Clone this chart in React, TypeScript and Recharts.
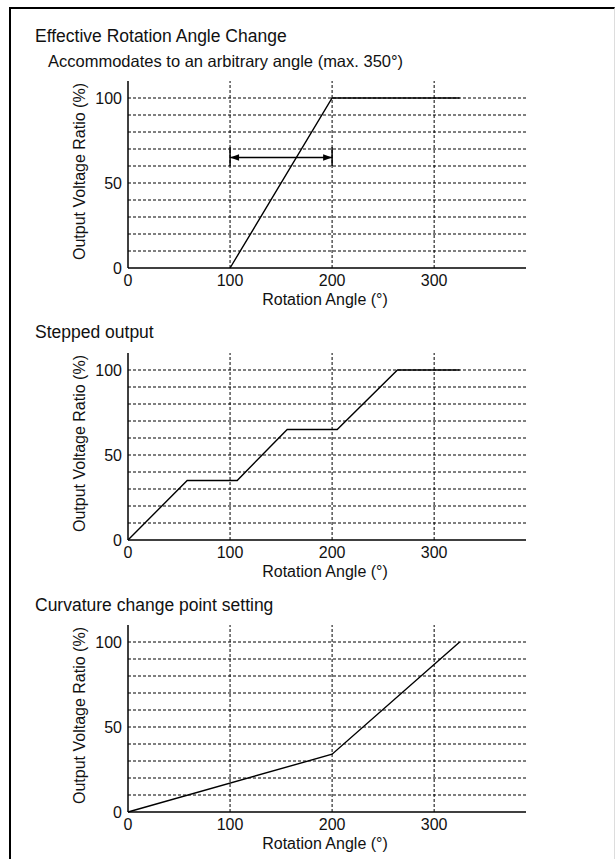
import React from "react";
import { LineChart, Line, XAxis, YAxis, ReferenceLine, ReferenceDot } from "recharts";

const FONT = '"Liberation Sans", Arial, Helvetica, sans-serif';
const INK = "#111";

// axis ticks and grid positions
const angleTicks = [0, 100, 200, 300];
const ratioTicks = [0, 50, 100];
const gridAngles = [100, 200, 300];
const gridRatios = [10, 20, 30, 40, 50, 60, 70, 80, 90, 100];

// Effective rotation angle change
const effectiveAngles = [100, 200, 325];
const effectiveRatios = [0, 100, 100];

// Stepped output
const steppedAngles = [0, 58, 107, 156, 205, 264, 325];
const steppedRatios = [0, 35, 35, 65, 65, 100, 100];

// Curvature change point setting
const curvatureAngles = [0, 200, 325];
const curvatureRatios = [0, 34, 100];

// double arrow in the first chart
const arrowAngles = [100, 200];
const arrowRatio = 65;
const arrowBarRatios = [60, 71];

const titles = ["Effective Rotation Angle Change", "Stepped output", "Curvature change point setting"];
const subtitle = "Accommodates to an arbitrary angle (max. 350°)";
const xLabel = "Rotation Angle (°)";
const yLabel = "Output Voltage Ratio (%)";

const toRows = (angles: number[], ratios: number[]) =>
  angles.map((angle, i) => ({ angle, ratio: ratios[i] }));

const renderYLabel = (props: any) => {
  const vb = props.viewBox || { x: 0, y: 0, width: 128, height: 187 };
  const cx = vb.x + 79;
  const cy = vb.y + vb.height / 2 - 3;
  return (
    <text
      x={cx}
      y={cy}
      transform={`rotate(-90 ${cx} ${cy})`}
      textAnchor="middle"
      dominantBaseline="central"
      fontSize={16}
      fontFamily={FONT}
      fill={INK}
    >
      {yLabel}
    </text>
  );
};

const renderXLabel = (props: any) => {
  const vb = props.viewBox || { x: 128, y: 187, width: 398, height: 45 };
  return (
    <text x={vb.x + vb.width / 2 - 2} y={vb.y + 37} textAnchor="middle" fontSize={16} fontFamily={FONT} fill={INK}>
      {xLabel}
    </text>
  );
};

// arrow heads, tip sits on the data point
const arrowHead = (dir: number) => (props: any) => {
  const { cx, cy } = props;
  return <path d={`M${cx},${cy} L${cx + dir * 9},${cy - 3.2} L${cx + dir * 9},${cy + 3.2} Z`} fill="#000" />;
};

type CurveProps = { angles: number[]; ratios: number[]; top: number; showArrow?: boolean };

const CurveChart: React.FC<CurveProps> = ({ angles, ratios, top, showArrow }) => {
  const rows = toRows(angles, ratios);
  return (
    <div style={{ position: "absolute", left: 0, top }}>
      <LineChart width={615} height={242} data={rows} margin={{ top: 10, right: 89, left: 0, bottom: 0 }}>
        <XAxis
          type="number"
          dataKey="angle"
          domain={[0, 390]}
          ticks={angleTicks}
          interval={0}
          tickLine={false}
          tickSize={0}
          tickMargin={7}
          height={45}
          axisLine={{ stroke: "#000", strokeWidth: 1.5 }}
          tick={{ fill: INK, fontSize: 16, fontFamily: FONT }}
          label={{ value: xLabel, content: renderXLabel }}
        />
        <YAxis
          type="number"
          domain={[0, 110]}
          ticks={ratioTicks}
          interval={0}
          tickLine={false}
          tickSize={0}
          tickMargin={6}
          width={128}
          axisLine={{ stroke: "#000", strokeWidth: 1.5 }}
          tick={{ fill: INK, fontSize: 16, fontFamily: FONT }}
          label={{ value: yLabel, content: renderYLabel }}
        />
        {gridRatios.map((r) => (
          <ReferenceLine key={`h${r}`} y={r} stroke="#000" strokeWidth={1} strokeDasharray="3 2" />
        ))}
        {gridAngles.map((a) => (
          <ReferenceLine key={`v${a}`} x={a} stroke="#000" strokeWidth={1} strokeDasharray="3 2" />
        ))}
        {showArrow && (
          <ReferenceLine
            segment={[{ x: arrowAngles[0], y: arrowRatio }, { x: arrowAngles[1], y: arrowRatio }]}
            stroke="#000"
            strokeWidth={1.5}
          />
        )}
        {showArrow &&
          arrowAngles.map((a) => (
            <ReferenceLine
              key={`bar${a}`}
              segment={[{ x: a, y: arrowBarRatios[0] }, { x: a, y: arrowBarRatios[1] }]}
              stroke="#000"
              strokeWidth={1.5}
            />
          ))}
        {showArrow && <ReferenceDot x={arrowAngles[0]} y={arrowRatio} shape={arrowHead(1)} />}
        {showArrow && <ReferenceDot x={arrowAngles[1]} y={arrowRatio} shape={arrowHead(-1)} />}
        <Line
          type="linear"
          dataKey="ratio"
          stroke="#000"
          strokeWidth={1.4}
          dot={false}
          activeDot={false}
          isAnimationActive={false}
        />
      </LineChart>
    </div>
  );
};

const titleStyle: React.CSSProperties = {
  position: "absolute",
  left: 35,
  fontSize: 17.5,
  lineHeight: "20px",
  color: INK,
  whiteSpace: "nowrap",
};

export default function App() {
  return (
    <div
      style={{
        position: "absolute",
        left: 0,
        top: 0,
        width: 615,
        height: 859,
        overflow: "hidden",
        background: "#fff",
        fontFamily: FONT,
      }}
    >
      {/* page frame */}
      <div
        style={{
          position: "absolute",
          left: 9,
          top: 7,
          width: 606,
          height: 852,
          boxSizing: "border-box",
          borderTop: "2px solid #000",
          borderLeft: "2px solid #000",
          borderRight: "1px solid #ddd",
        }}
      />
      <div style={{ ...titleStyle, top: 26 }}>{titles[0]}</div>
      <div style={{ ...titleStyle, left: 48, top: 51, fontSize: 16.5 }}>{subtitle}</div>
      <CurveChart angles={effectiveAngles} ratios={effectiveRatios} top={71} showArrow />

      <div style={{ ...titleStyle, top: 322 }}>{titles[1]}</div>
      <CurveChart angles={steppedAngles} ratios={steppedRatios} top={343} />

      <div style={{ ...titleStyle, top: 595 }}>{titles[2]}</div>
      <CurveChart angles={curvatureAngles} ratios={curvatureRatios} top={615} />
    </div>
  );
}
